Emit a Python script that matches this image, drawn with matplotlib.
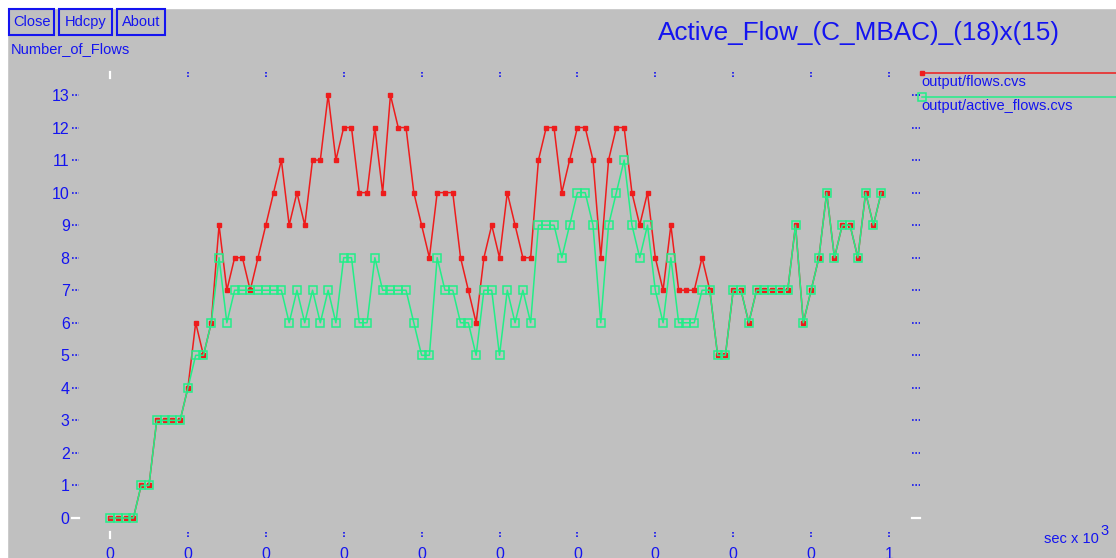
import numpy as np
import matplotlib
matplotlib.use("Agg")
import matplotlib.pyplot as plt
from matplotlib.patches import Rectangle
from matplotlib.lines import Line2D

plt.rcParams['font.family'] = ['Liberation Sans', 'DejaVu Sans']

# ---- data -------------------------------------------------------------
title = "Active_Flow_(C_MBAC)_(18)x(15)"
y_label = "Number_of_Flows"
x_unit = "sec x 10"
series_names = ["output/flows.cvs", "output/active_flows.cvs"]

flows = [0, 0, 0, 0, 1, 1, 3, 3, 3, 3,
         4, 6, 5, 6, 9, 7, 8, 8, 7, 8,
         9, 10, 11, 9, 10, 9, 11, 11, 13, 11,
         12, 12, 10, 10, 12, 10, 13, 12, 12, 10,
         9, 8, 10, 10, 10, 8, 7, 6, 8, 9,
         8, 10, 9, 8, 8, 11, 12, 12, 10, 11,
         12, 12, 11, 8, 11, 12, 12, 10, 9, 10,
         8, 7, 9, 7, 7, 7, 8, 7, 5, 5,
         7, 7, 6, 7, 7, 7, 7, 7, 9, 6,
         7, 8, 10, 8, 9, 9, 8, 10, 9, 10]

active_flows = [0, 0, 0, 0, 1, 1, 3, 3, 3, 3,
                4, 5, 5, 6, 8, 6, 7, 7, 7, 7,
                7, 7, 7, 6, 7, 6, 7, 6, 7, 6,
                8, 8, 6, 6, 8, 7, 7, 7, 7, 6,
                5, 5, 8, 7, 7, 6, 6, 5, 7, 7,
                5, 7, 6, 7, 6, 9, 9, 9, 8, 9,
                10, 10, 9, 6, 9, 10, 11, 9, 8, 9,
                7, 6, 8, 6, 6, 6, 7, 7, 5, 5,
                7, 7, 6, 7, 7, 7, 7, 7, 9, 6,
                7, 8, 10, 8, 9, 9, 8, 10, 9, 10]

sample_step = 10  # seconds between samples
times = np.arange(len(flows)) * sample_step

x_ticks = list(range(0, 1001, 100))
y_ticks = list(range(0, 14))

# ---- style ------------------------------------------------------------
BG = '#c0c0c0'
BLUE = '#1414f0'
RED = '#ee1c1c'
GREEN = '#22ee88'
W, H = 1116, 558
DOTS = (0, (1, 1))


def fx(px):
    return px / W


def fy(py):
    return 1 - py / H


fig = plt.figure(figsize=(W / 100, H / 100), dpi=100, facecolor=BG)

# white margins along top and left edges of the window
fig.patches.append(Rectangle((0, fy(8)), 1, 8 / H, transform=fig.transFigure,
                             color='white', zorder=0))
fig.patches.append(Rectangle((0, 0), fx(7), 1, transform=fig.transFigure,
                             color='white', zorder=0))

ax = fig.add_axes([fx(110), 40 / H, 779 / W, 423 / H])
ax.set_xlim(0, 1000)
ax.set_ylim(0, 13)
ax.patch.set_alpha(0)
for s in ax.spines.values():
    s.set_visible(False)

# series
ax.plot(times, flows, color=RED, lw=1.1, marker='s', ms=3.0,
        mfc=RED, mec=RED, clip_on=False, zorder=3)
ax.plot(times, active_flows, color=GREEN, lw=1.1, marker='s', ms=5.5,
        mfc='none', mec=GREEN, mew=1.1, clip_on=False, zorder=4)

# tick labels
ax.set_xticks(x_ticks)
ax.set_xticklabels([str(int(v // 1000)) for v in x_ticks])
ax.set_yticks(y_ticks)
ax.set_yticklabels([str(v) for v in y_ticks])
ax.tick_params(axis='both', length=0, labelcolor=BLUE, labelsize=11.5)
ax.tick_params(axis='x', pad=21)
ax.tick_params(axis='y', pad=29)

# detached tick marks (dotted, white at origin)
xt = ax.get_xaxis_transform()
yt = ax.get_yaxis_transform()
for i, v in enumerate(x_ticks):
    col, ls = ('white', '-') if i == 0 else (BLUE, DOTS)
    lw = 1.6 if i == 0 else 1.2
    for y0, y1 in [((518 - 532) / 423, (518 - 538) / 423),
                   ((518 - 72) / 423, (518 - 78) / 423)]:
        ax.plot([v, v], [y0, y1], transform=xt, color=col, ls=ls, lw=lw,
                clip_on=False)
for i, v in enumerate(y_ticks):
    col, ls = ('white', '-') if i == 0 else (BLUE, DOTS)
    lw = 1.6 if i == 0 else 1.2
    for x0, x1 in [((72 - 110) / 779, (79 - 110) / 779),
                   ((912 - 110) / 779, (920 - 110) / 779)]:
        ax.plot([x0, x1], [v, v], transform=yt, color=col, ls=ls, lw=lw,
                clip_on=False)

# buttons
for label, x0, x1 in [("Close", 9, 54), ("Hdcpy", 59, 112), ("About", 117, 165)]:
    fig.patches.append(Rectangle((fx(x0), fy(35)), fx(x1) - fx(x0), 26 / H,
                                 transform=fig.transFigure, fill=False,
                                 ec=BLUE, lw=1.5))
    fig.text(fx((x0 + x1) / 2), fy(22), label, color=BLUE, fontsize=10.5,
             ha='center', va='center')

fig.text(fx(11), fy(49), y_label, color=BLUE, fontsize=10.5, ha='left',
         va='center')
fig.text(fx(1060), fy(33), title, color=BLUE, fontsize=18.8, ha='right',
         va='center')

# unit label with superscript exponent
fig.text(fx(1099), fy(539), x_unit, color=BLUE, fontsize=10.5, ha='right',
         va='center')
fig.text(fx(1100), fy(531), "3", color=BLUE, fontsize=10.5, ha='left',
         va='center')

# legend
legend_rows = [(series_names[0], RED, 73, dict(ms=3.0, mfc=RED, mec=RED)),
               (series_names[1], GREEN, 97, dict(ms=5.5, mfc='none', mec=GREEN,
                                                 mew=1.1))]
for name, col, py, mk in legend_rows:
    fig.lines.append(Line2D([fx(922), fx(1116)], [fy(py), fy(py)],
                            transform=fig.transFigure, color=col, lw=1.1))
    fig.lines.append(Line2D([fx(922)], [fy(py)], transform=fig.transFigure,
                            marker='s', ls='none', **mk))
    fig.text(fx(921), fy(py + 9), name, color=BLUE, fontsize=10.5,
             ha='left', va='center')

fig.savefig("out.png", dpi=100, facecolor=BG)
